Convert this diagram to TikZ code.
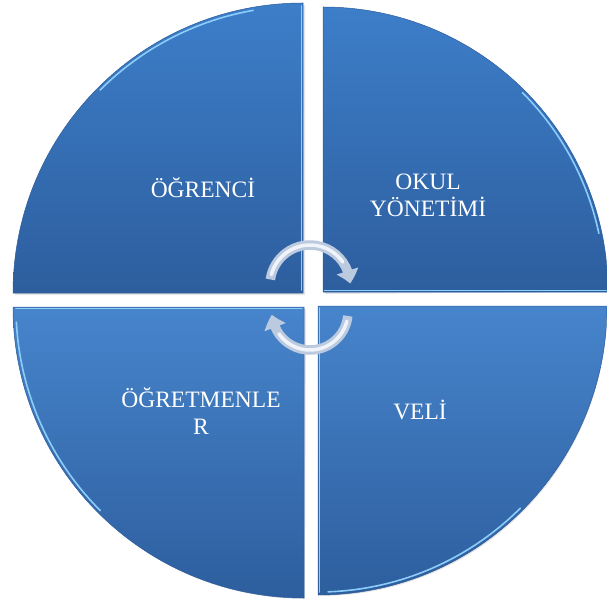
\documentclass[tikz,border=0pt]{standalone}
\usepackage{fontspec}
\setmainfont{Liberation Serif}
\usetikzlibrary{arrows.meta,bending}
\definecolor{qtop}{RGB}{61,126,201}
\definecolor{qbot}{RGB}{45,94,158}
\definecolor{qline}{RGB}{45,92,155}
\definecolor{hil}{RGB}{140,205,250}
\definecolor{arr}{RGB}{188,202,224}
\definecolor{arrhi}{RGB}{240,244,250}
\tikzset{
  quad/.style={top color=qtop, bottom color=qbot, draw=qline, line width=0.5pt},
  bevel/.style={draw=hil, line width=1.6pt, line cap=round},
  lbl/.style={text=white, font=\fontsize{23.5}{27}\selectfont, align=center, inner sep=0pt},
  cyc/.style={draw=arr, line width=9.5pt, -{Triangle[bend,width=22pt,length=13pt]}},
  cychi/.style={draw=arrhi, line width=3.5pt, line cap=round}
}
\begin{document}
\begin{tikzpicture}[x=1pt,y=1pt]
\useasboundingbox (0,0) rectangle (607,606);
% soft shadows
\fill[black!10] (305,311) -- (15,311) arc[start angle=180,end angle=90,radius=290] -- cycle;
\fill[black!10] (325,312) -- (325,597) arc[start angle=90,end angle=0,radius=283] -- cycle;
\fill[black!10] (306,297) -- (15,297) arc[start angle=180,end angle=270,radius=290] -- cycle;
\fill[black!10] (320,298) -- (320,10) arc[start angle=270,end angle=360,radius=287] -- cycle;
% quadrants
\path[quad] (303,313) -- (13,313) arc[start angle=180,end angle=90,radius=290] -- cycle;
\path[quad] (323,314) -- (323,599) arc[start angle=90,end angle=0,radius=285] -- cycle;
\path[quad, top color=qtop!95!white] (304,299) -- (13,299) arc[start angle=180,end angle=270,radius=291] -- cycle;
\path[quad, top color=qtop!95!white] (318,300) -- (318,11) arc[start angle=270,end angle=360,radius=289] -- cycle;
% bevel highlights
\draw[bevel] (301.5,316) -- (301.5,600);
\draw[bevel] (303,313) ++(100:287) arc[start angle=100,end angle=135,radius=287];
\draw[bevel] (323,314) ++(12:282) arc[start angle=12,end angle=45,radius=282];
\draw[bevel] (324.5,315.5) -- (606,315.5);
\draw[bevel] (16,297.5) -- (302,297.5);
\draw[bevel] (304,299) ++(183:288) arc[start angle=183,end angle=225,radius=288];
\draw[bevel] (319.5,14) -- (319.5,298);
\draw[bevel] (318,300) ++(272:286) arc[start angle=272,end angle=315,radius=286];
% labels
\node[lbl] (ogrenci) at (203,418) {ÖĞRENCİ};
\node[lbl] (okul) at (428,411) {OKUL\\YÖNETİMİ};
\node[lbl] (ogretmen) at (201,195) {ÖĞRETMENLE\\R};
\node[lbl] (veli) at (420,196) {VELİ};
% cycle arrows
\coordinate (ctop) at (310,321);
\coordinate (cbot) at (310,294);
\draw[cyc] (ctop) ++(172:40) arc[start angle=172,end angle=2,radius=40];
\draw[cychi] (ctop) ++(165:40) arc[start angle=165,end angle=35,radius=40];
\draw[cyc] (cbot) ++(-6:38) arc[start angle=-6,end angle=-176,radius=38];
\draw[cychi] (cbot) ++(-14:38) arc[start angle=-14,end angle=-145,radius=38];
\end{tikzpicture}
\end{document}
